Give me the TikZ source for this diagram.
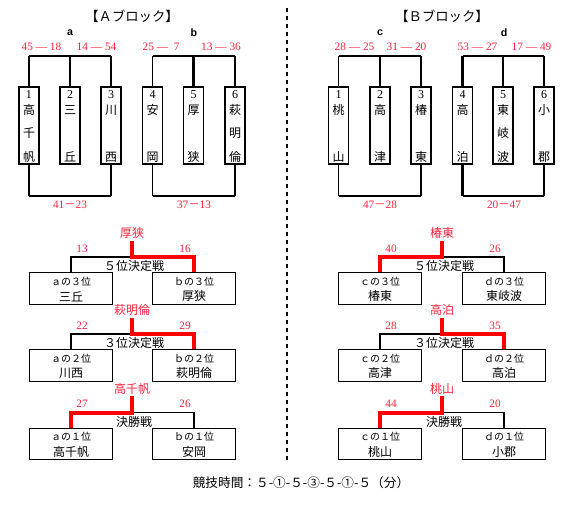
\documentclass[tikz,border=0pt]{standalone}
\usepackage{fontspec}
\setmainfont{Liberation Serif}
\newfontfamily\jp{Noto Sans CJK JP}
\newfontfamily\lab{Liberation Sans}
\usepackage{tikz}
\usetikzlibrary{positioning, calc}
\definecolor{scoreRed}{RGB}{255, 35, 60}
\definecolor{lineRed}{RGB}{255, 0, 0}

\begin{document}
\begin{tikzpicture}[x=0.75pt, y=-0.75pt, every node/.style={inner sep=0pt, font=\jp\fontsize{9}{10}\selectfont},
    team/.style={draw, thick, minimum width=15pt, minimum height=57.75pt},
    slot/.style={draw, thick, minimum width=62.25pt, minimum height=23.5pt},
    score/.style={text=scoreRed, font=\fontsize{8.5}{10}\selectfont},
    win/.style={line width=2.2pt},
    redwin/.style={line width=3pt, lineRed},
    grp/.style={font=\lab\bfseries\fontsize{8}{10}\selectfont}]
    \useasboundingbox (0,0) rectangle (577,507);
    % Block titles
    \node[font=\jp\fontsize{10}{12}\selectfont] (tA) at (132,16) {【Ａブロック】};
    \node[font=\jp\fontsize{10}{12}\selectfont] (tB) at (442,16) {【Ｂブロック】};
    \draw[dashed, thick] (287,8) -- (287,462);
    % Teams
    \foreach \nm/\x/\n/\p/\q/\r in {A1/29/1/高/千/帆, A2/70/2/三//丘, A3/111/3/川//西,
        A4/152.5/4/安//岡, A5/193.5/5/厚//狭, A6/235/6/萩/明/倫,
        B1/338.5/1/桃//山, B2/380/2/高//津, B3/421/3/椿//東,
        B4/462.5/4/高//泊, B5/503/5/東/岐/波, B6/544/6/小//郡} {
      \node[team] (\nm) at (\x,125.5) {};
      \node[font=\fontsize{9}{10}\selectfont] at (\x,95) {\n};
      \node at (\x,110) {\p};
      \node at (\x,133) {\q};
      \node at (\x,157) {\r};
    }
    % Groups
    \node[grp] (ga) at (70,33) {a};
    \node[grp] (gb) at (194,33) {b};
    \node[grp] (gc) at (380,33) {c};
    \node[grp] (gd) at (504,33) {d};
    \node[score] at (41.5,47) {45 — 18};
    \node[score] at (96.5,47) {14 — 54};
    \node[score] at (161,47) {25 —\ \ 7};
    \node[score] at (221,47) {13 — 36};
    \node[score] at (354.5,47) {28 — 25};
    \node[score] at (406.5,47) {31 — 20};
    \node[score] at (477.5,47) {53 — 27};
    \node[score] at (531.5,47) {17 — 49};
    \coordinate (topA) at (0,56);
    \coordinate (botA) at (0,196);
    \draw[thick] (A1.north |- topA) -- (A3.north |- topA);
    \draw[thick] (A4.north |- topA) -- (A6.north |- topA);
    \draw[thick] (B1.north |- topA) -- (B3.north |- topA);
    \draw[thick] (B4.north |- topA) -- (B6.north |- topA);
    \foreach \t in {A3,A4,B1,B2,B5,B6}
      \draw[thick] (\t.north |- topA) -- (\t.north);
    \foreach \t in {A1,A2,A5,A6,B3,B4}
      \draw[win] (\t.north |- topA) -- (\t.north);
    % Second stage
    \draw[thick] (A1.south |- botA) -- (A3.south |- botA);
    \draw[thick] (A4.south |- botA) -- (A6.south |- botA);
    \draw[thick] (B1.south |- botA) -- (B3.south |- botA);
    \draw[thick] (B4.south |- botA) -- (B6.south |- botA);
    \foreach \t in {A3,A4,B1,B6}
      \draw[thick] (\t.south) -- (\t.south |- botA);
    \foreach \t in {A1,A6,B3,B4}
      \draw[win] (\t.south) -- (\t.south |- botA);
    \node[score] at (70,205) {41{\jp －}23};
    \node[score] at (194,205) {37{\jp －}13};
    \node[score] at (380,205) {47{\jp －}28};
    \node[score] at (504,205) {20{\jp －}47};
    % Placement matches
    \foreach \s/\mx/\lx/\rx/\ly/\ttl/\ltop/\lnm/\rtop/\rnm/\wn/\ls/\rs/\side in {
        A5/132/71/194/288.5/５位決定戦/ａの３位/三丘/ｂの３位/厚狭/厚狭/13/16/r,
        A3/132/71/194/365.5/３位決定戦/ａの２位/川西/ｂの２位/萩明倫/萩明倫/22/29/r,
        A1/132/71/194/444/決勝戦/ａの１位/高千帆/ｂの１位/安岡/高千帆/27/26/l,
        B5/442/380/504/288.5/５位決定戦/ｃの３位/椿東/ｄの３位/東岐波/椿東/40/26/l,
        B3/442/380/504/365.5/３位決定戦/ｃの２位/高津/ｄの２位/高泊/高泊/28/35/r,
        B1/442/380/504/444/決勝戦/ｃの１位/桃山/ｄの１位/小郡/桃山/44/20/l} {
      \node[slot] (\s L) at (\lx,\ly) {};
      \node[slot] (\s R) at (\rx,\ly) {};
      \node[font=\jp\fontsize{7.5}{9}\selectfont] at ($(\s L.north)+(0,9)$) {\ltop};
      \node at ($(\s L.north)+(0,24)$) {\lnm};
      \node[font=\jp\fontsize{7.5}{9}\selectfont] at ($(\s R.north)+(0,9)$) {\rtop};
      \node at ($(\s R.north)+(0,24)$) {\rnm};
      \coordinate (\s M) at ($(\mx,\ly)+(0,-31.5)$);
      \node at ($(\s M)+(2,9)$) {\ttl};
      \node[text=scoreRed] (\s W) at ($(\s M)+(0,-24)$) {\wn};
      \node[score] at ($(\s L.north)+(11,-24)$) {\ls};
      \node[score] at ($(\s R.north)+(-9,-24)$) {\rs};
      \if\side r
        \draw[thick] (\s L.north) |- (\s M);
        \draw[redwin] ($(\s W.south)+(0,2)$) -- (\s M) -| (\s R.north);
      \else
        \draw[thick] (\s R.north) |- (\s M);
        \draw[redwin] ($(\s W.south)+(0,2)$) -- (\s M) -| (\s L.north);
      \fi
    }
    % Time
    \node[font=\jp\fontsize{9.5}{11}\selectfont] (time) at (301,483) {競技時間：５-①-５-③-５-①-５（分）};
\end{tikzpicture}
\end{document}
